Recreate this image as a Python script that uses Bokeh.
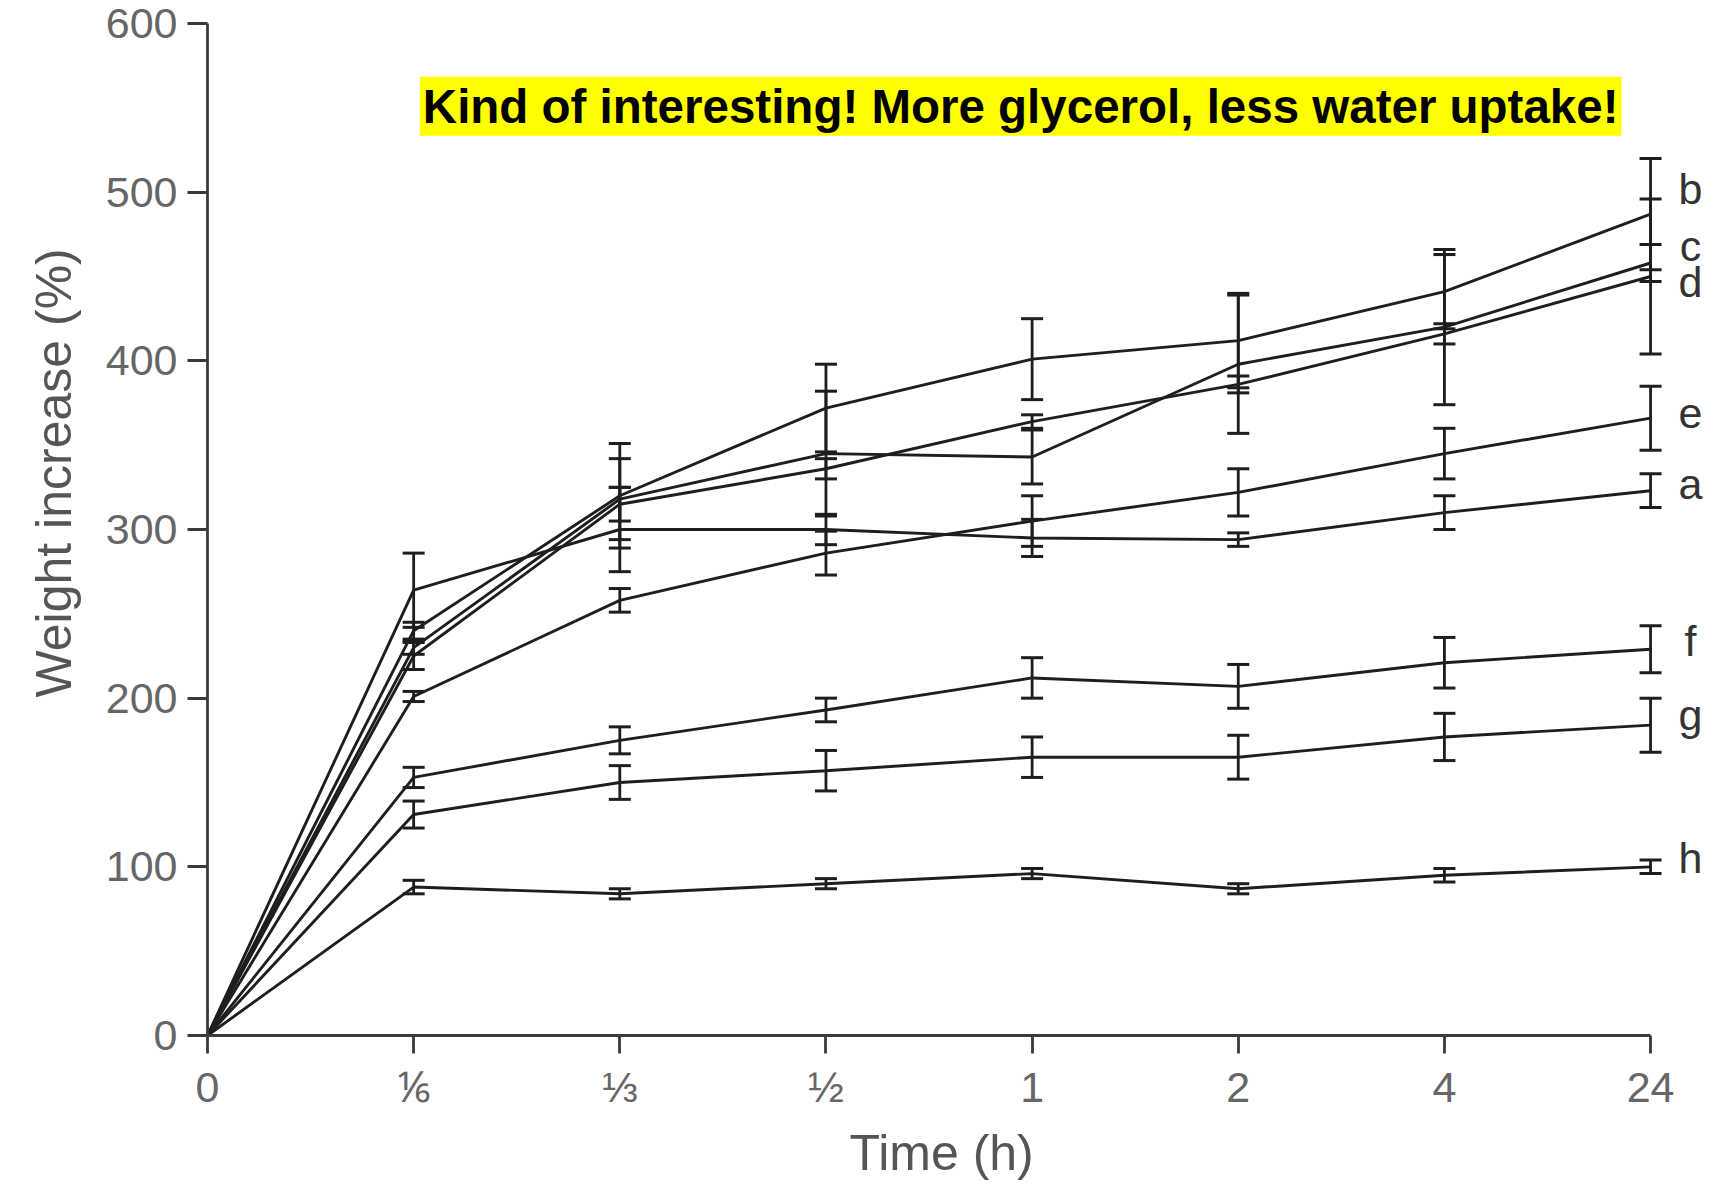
from bokeh.plotting import figure
from bokeh.models import ColumnDataSource, FixedTicker, Label, Whisker, TeeHead, Title
from bokeh.embed import file_html
from bokeh.resources import INLINE
from bokeh.core.properties import value

# Time points (categorical positions along x) and their tick labels
x_labels = ["0", "⅙", "⅓", "½", "1", "2", "4", "24"]
series_names = ["a", "b", "c", "d", "e", "f", "g", "h"]

# Weight increase (%) per formulation
a = [0, 264, 300, 300, 295, 294, 310, 323]
b = [0, 240, 320, 372, 401, 412, 441, 487]
c = [0, 230, 318, 345, 343, 398, 420, 458]
d = [0, 225, 315, 336, 364, 386, 416, 450]
e = [0, 201, 258, 286, 305, 322, 345, 366]
f = [0, 153, 175, 193, 212, 207, 221, 229]
g = [0, 131, 150, 157, 165, 165, 177, 184]
h = [0, 88, 84, 90, 96, 87, 95, 100]

# Standard deviations
a_err = [0, 22, 25, 9, 11, 4, 10, 10]
b_err = [0, 5, 31, 26, 24, 28, 22, 33]
c_err = [0, 4, 24, 37, 16, 41, 46, 11]
d_err = [0, 8, 10, 6, 4, 5, 6, 46]
e_err = [0, 3, 7, 13, 15, 14, 15, 19]
f_err = [0, 6, 8, 7, 12, 13, 15, 14]
g_err = [0, 8, 10, 12, 12, 13, 14, 16]
h_err = [0, 4, 3, 3, 3, 3, 4, 4]

y_ticks = [0, 100, 200, 300, 400, 500, 600]
note_text = "Kind of interesting! More glycerol, less water uptake!"
x_title = "Time (h)"
y_title = "Weight increase (%)"

series = [a, b, c, d, e, f, g, h]
errors = [a_err, b_err, c_err, d_err, e_err, f_err, g_err, h_err]
# vertical nudges of the end labels (style only)
label_nudge = [4, 15, 10, -3, 3, 5, 6, 5]

LINE = "#1e1e1e"
AXIS = "#3a3a3a"
GREY = "#666666"
FONT = "Liberation Sans"

xs = list(range(len(x_labels)))
last = xs[-1]

p = figure(width=1725, height=1189, x_range=(0, last + 0.315), y_range=(0, 600),
           output_backend="svg", toolbar_location=None,
           min_border_left=207, min_border_right=10, min_border_top=23, min_border_bottom=154)
p.outline_line_color = None
p.grid.visible = False
p.background_fill_color = "white"

for ys, err in zip(series, errors):
    p.line(xs, ys, line_color=LINE, line_width=2.9)
    src = ColumnDataSource(dict(x=xs[1:],
                                upper=[v + s for v, s in zip(ys[1:], err[1:])],
                                lower=[v - s for v, s in zip(ys[1:], err[1:])]))
    w = Whisker(base="x", upper="upper", lower="lower", source=src,
                line_color=LINE, line_width=2.8,
                upper_head=TeeHead(size=22, line_color=LINE, line_width=3),
                lower_head=TeeHead(size=22, line_color=LINE, line_width=3))
    p.add_layout(w)

# end labels
lab_src = ColumnDataSource(dict(x=[last] * len(series_names),
                                y=[s[-1] + n for s, n in zip(series, label_nudge)],
                                t=series_names))
p.text(x="x", y="y", text="t", source=lab_src, x_offset=40,
       text_align="center", text_baseline="middle",
       text_font=value(FONT), text_font_size="43px", text_color="#333333")

# highlighted note
p.add_layout(Label(x=1.03, y=551, text=note_text, text_font=FONT, text_font_size="47.5px",
                   text_font_style="bold", text_color="black", text_baseline="middle",
                   background_fill_color="#ffff00", padding=3))

# axes
p.xaxis.ticker = FixedTicker(ticks=xs)
p.xaxis.major_label_overrides = {i: t for i, t in enumerate(x_labels)}
p.xaxis.bounds = (0, last)
p.yaxis.ticker = FixedTicker(ticks=y_ticks)
for ax in (p.xaxis, p.yaxis):
    ax.axis_line_color = AXIS
    ax.axis_line_width = 2.8
    ax.major_tick_line_color = AXIS
    ax.major_tick_line_width = 2.8
    ax.major_tick_in = 0
    ax.minor_tick_line_color = None
    ax.major_label_text_font = FONT
    ax.major_label_text_font_size = "43px"
    ax.major_label_text_color = GREY
p.xaxis.major_tick_out = 18
p.yaxis.major_tick_out = 20
p.xaxis.major_label_standoff = 9
p.yaxis.major_label_standoff = 10

# axis titles as side titles so they can be offset like the reference
p.add_layout(Title(text=x_title, align="left", offset=642, standoff=18,
                   text_font=FONT, text_font_size="50px", text_font_style="normal",
                   text_color="#555555"), "below")
p.add_layout(Title(text=y_title, align="left", offset=338, standoff=42,
                   text_font=FONT, text_font_size="50px", text_font_style="normal",
                   text_color="#555555"), "left")

open("out.html", "w").write(file_html(p, INLINE))
